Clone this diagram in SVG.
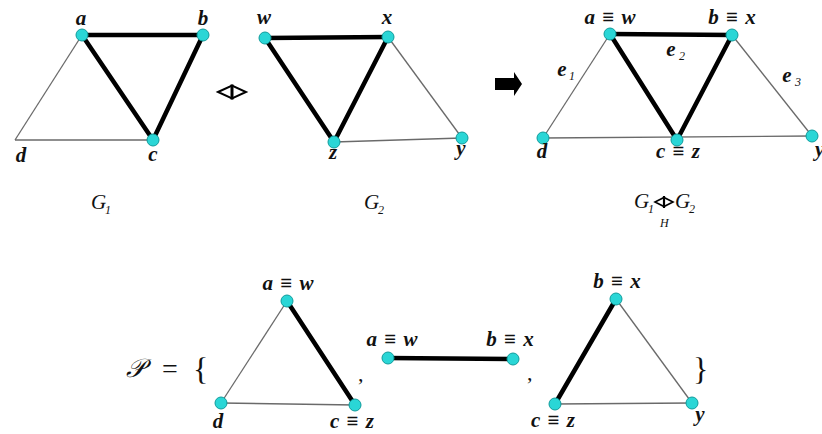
<svg xmlns="http://www.w3.org/2000/svg" width="822" height="434" viewBox="0 0 822 434">
<style>
.thin{stroke:#6a6a6a;stroke-width:1.3;fill:none}
.thick{stroke:#000;stroke-width:4.5;fill:none;stroke-linecap:round}
.nd{fill:#2ad6d6;stroke:#109c9c;stroke-width:1}
.lb{font-family:"Liberation Serif","DejaVu Serif",serif;font-style:italic;font-weight:bold;font-size:21px;word-spacing:2px;fill:#111;text-anchor:middle}
.cap{font-family:"Liberation Serif","DejaVu Serif",serif;font-style:italic;font-size:21px;fill:#111}
.sub{font-family:"Liberation Serif","DejaVu Serif",serif;font-style:italic;font-size:12px;fill:#111}
.sym{stroke:#000;stroke-width:2;fill:none;stroke-linejoin:miter}
.br{font-family:"Liberation Serif","DejaVu Serif",serif;font-size:32px;fill:#111}
</style>
<rect width="822" height="434" fill="#fff"/>
<g id="connectors">
<line class="thin" x1="82" y1="35" x2="15" y2="140"/>
<line class="thin" x1="15" y1="140" x2="153" y2="140"/>
<line class="thick" x1="82" y1="35" x2="203" y2="35"/>
<line class="thick" x1="82" y1="35" x2="153" y2="140"/>
<line class="thick" x1="203" y1="35" x2="153" y2="140"/>
<line class="thin" x1="388" y1="37" x2="462" y2="138"/>
<line class="thin" x1="334" y1="142" x2="462" y2="138"/>
<line class="thick" x1="265" y1="38" x2="388" y2="37"/>
<line class="thick" x1="265" y1="38" x2="334" y2="142"/>
<line class="thick" x1="388" y1="37" x2="334" y2="142"/>
<line class="thin" x1="610" y1="34" x2="543" y2="138"/>
<line class="thin" x1="543" y1="138" x2="812" y2="136"/>
<line class="thin" x1="732" y1="35" x2="812" y2="136"/>
<line class="thick" x1="610" y1="34" x2="732" y2="35"/>
<line class="thick" x1="610" y1="34" x2="677" y2="140"/>
<line class="thick" x1="732" y1="35" x2="677" y2="140"/>
<line class="thin" x1="287" y1="301" x2="221" y2="403"/>
<line class="thin" x1="221" y1="403" x2="355" y2="405"/>
<line class="thick" x1="287" y1="301" x2="355" y2="405"/>
<line class="thick" x1="388" y1="358" x2="513" y2="359"/>
<line class="thin" x1="616" y1="299" x2="692" y2="403"/>
<line class="thin" x1="555" y1="404" x2="692" y2="403"/>
<line class="thick" x1="616" y1="299" x2="555" y2="404"/>
</g>
<g id="g1-a"><circle class="nd" cx="82" cy="35" r="6"/><text class="lb" x="81" y="25">a</text></g>
<g id="g1-b"><circle class="nd" cx="203" cy="35" r="6"/><text class="lb" x="203" y="25">b</text></g>
<g id="g1-c"><circle class="nd" cx="153" cy="140" r="6"/><text class="lb" x="153" y="161">c</text></g>
<g id="g1-d"><text class="lb" x="21" y="162">d</text></g>
<g id="g2-w"><circle class="nd" cx="265" cy="38" r="6"/><text class="lb" x="264" y="24">w</text></g>
<g id="g2-x"><circle class="nd" cx="388" cy="37" r="6"/><text class="lb" x="387" y="24">x</text></g>
<g id="g2-z"><circle class="nd" cx="334" cy="142" r="6"/><text class="lb" x="333" y="159">z</text></g>
<g id="g2-y"><circle class="nd" cx="462" cy="138" r="6"/><text class="lb" x="461" y="155">y</text></g>
<g id="op-diamond">
<path class="sym" d="M218 92 L232 85.5 L246 92 L232 98.5 Z"/>
<line x1="232" y1="84.5" x2="232" y2="99.5" stroke="#000" stroke-width="3"/>
</g>
<g id="op-arrow"><polygon points="495,78 514,78 514,72 522,84 514,96 514,90 495,90" fill="#000"/></g>
<g id="m-aw"><circle class="nd" cx="610" cy="34" r="6"/><text class="lb" x="610" y="24">a ≡ w</text></g>
<g id="m-bx"><circle class="nd" cx="732" cy="35" r="6"/><text class="lb" x="732" y="24">b ≡ x</text></g>
<g id="m-cz"><circle class="nd" cx="677" cy="140" r="6"/><text class="lb" x="678" y="158">c ≡ z</text></g>
<g id="m-d"><circle class="nd" cx="543" cy="138" r="6"/><text class="lb" x="542" y="158">d</text></g>
<g id="m-y"><circle class="nd" cx="812" cy="136" r="6"/><text class="lb" x="815" y="156" style="text-anchor:start">y</text></g>
<g id="edge-labels">
<text class="lb" x="671" y="56">e</text><text class="sub" x="679" y="60">2</text>
<text class="lb" x="562" y="76">e</text><text class="sub" x="569" y="80">1</text>
<text class="lb" x="787" y="82">e</text><text class="sub" x="795" y="86">3</text>
</g>
<g id="cap-g1"><text class="cap" x="91" y="209">G</text><text class="sub" x="105" y="214">1</text></g>
<g id="cap-g2"><text class="cap" x="364" y="209">G</text><text class="sub" x="378" y="214">2</text></g>
<g id="cap-g12">
<text class="cap" x="634" y="208">G</text><text class="sub" x="648" y="213">1</text>
<path d="M655 202 L664 197.5 L673 202 L664 206.5 Z" stroke="#000" stroke-width="1.6" fill="none"/>
<line x1="664" y1="196" x2="664" y2="208" stroke="#000" stroke-width="2.2"/>
<text class="sub" x="660" y="227">H</text>
<text class="cap" x="675" y="208">G</text><text class="sub" x="689" y="213">2</text>
</g>
<g id="set">
<text class="cap" x="126" y="377" style="font-size:26px;font-family:'DejaVu Serif','Noto Sans',serif">𝒫</text>
<text class="br" x="162" y="378" style="font-size:28px">=</text>
<text class="br" x="193" y="380">{</text>
<text class="br" x="358" y="381" style="font-size:22px">,</text>
<text class="br" x="527" y="380" style="font-size:22px">,</text>
<text class="br" x="693" y="380">}</text>
</g>
<g id="p1-aw"><circle class="nd" cx="287" cy="301" r="6"/><text class="lb" x="288" y="290">a ≡ w</text></g>
<g id="p1-d"><circle class="nd" cx="221" cy="403" r="6"/><text class="lb" x="218" y="428">d</text></g>
<g id="p1-cz"><circle class="nd" cx="355" cy="405" r="6"/><text class="lb" x="352" y="428">c ≡ z</text></g>
<g id="p2-aw"><circle class="nd" cx="388" cy="358" r="6"/><text class="lb" x="392" y="346">a ≡ w</text></g>
<g id="p2-bx"><circle class="nd" cx="513" cy="359" r="6"/><text class="lb" x="510" y="346">b ≡ x</text></g>
<g id="p3-bx"><circle class="nd" cx="616" cy="299" r="6"/><text class="lb" x="617" y="288">b ≡ x</text></g>
<g id="p3-cz"><circle class="nd" cx="555" cy="404" r="6"/><text class="lb" x="553" y="427">c ≡ z</text></g>
<g id="p3-y"><circle class="nd" cx="692" cy="403" r="6"/><text class="lb" x="700" y="421">y</text></g>
</svg>
